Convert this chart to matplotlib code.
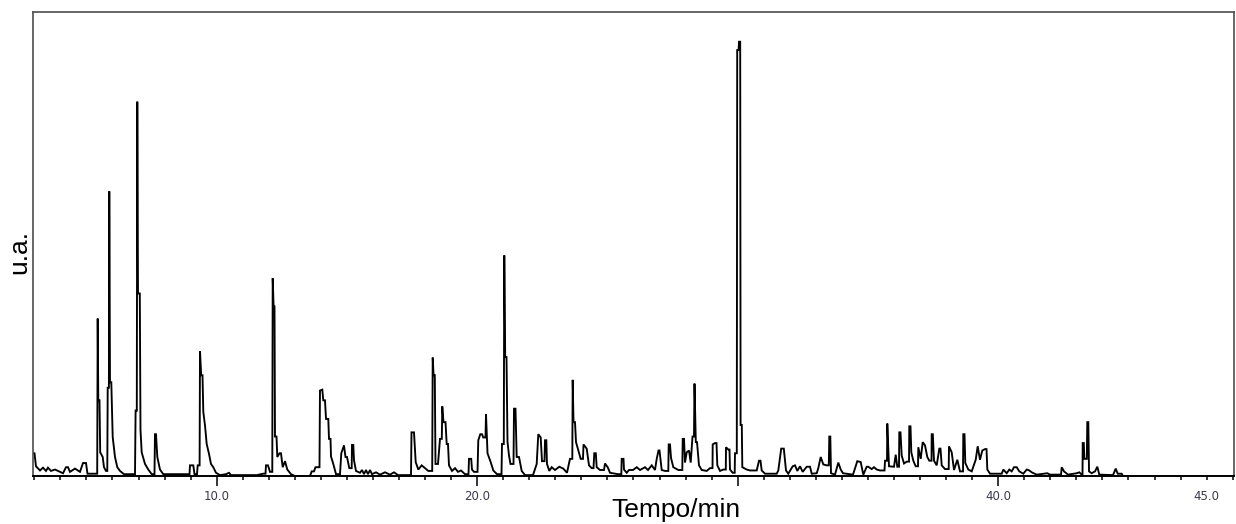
"""Cromatograma: sinal (u.a.) vs tempo de retencao (min)."""

import matplotlib

matplotlib.use("Agg")
import matplotlib.pyplot as plt
from matplotlib.ticker import FixedLocator, MultipleLocator

plt.rcParams["font.family"] = ["Liberation Sans", "DejaVu Sans"]

# ---------------------------------------------------------------------------
# Trace: retention time [min] and signal [u.a.]
# ---------------------------------------------------------------------------
tempo = [
    # 3 - 5.4 min
    2.960, 3.006, 3.063, 3.217, 3.332, 3.447, 3.524, 3.639, 3.793, 3.985,
    4.100, 4.215, 4.292, 4.369, 4.560, 4.752, 4.868, 4.983, 5.040, 5.367,
    # 5.4 - 7.6 min
    5.413, 5.432, 5.455, 5.501, 5.528, 5.624, 5.674, 5.750,
    5.800, 5.816, 5.862, 5.877, 5.904, 5.954, 6.008, 6.096, 6.184, 6.288, 6.441, 6.864,
    6.887, 6.933, 6.952, 6.979, 7.048, 7.075, 7.121, 7.248, 7.374, 7.505, 7.612,
    # 7.6 - 12 min
    7.631, 7.670, 7.720, 7.823, 7.950, 8.956, 8.975, 9.102, 9.148, 9.244, 9.271, 9.344,
    9.359, 9.405, 9.455, 9.486, 9.551, 9.616, 9.704, 9.781, 9.869, 9.973, 10.127, 10.357, 10.472, 10.549,
    11.547, 11.777, 11.873, 11.893, 11.969, 12.046,
    # 12 - 17.5 min
    12.134, 12.150, 12.184, 12.219, 12.238, 12.296, 12.326, 12.411, 12.468, 12.534,
    12.622, 12.710, 12.852, 13.006, 13.582, 13.647, 13.735, 13.793, 13.946,
    13.965, 14.054, 14.092, 14.157, 14.196, 14.284, 14.311, 14.369, 14.388, 14.476, 14.580, 14.733,
    14.783, 14.887, 14.944, 15.002, 15.090, 15.182, 15.194, 15.244, 15.271, 15.347,
    15.501, 15.578, 15.655, 15.731, 15.808, 15.885, 15.962, 16.115, 16.269, 16.461,
    16.653, 16.806, 16.960, 17.459,
    # 17.5 - 21 min
    17.478, 17.574, 17.639, 17.739, 17.869, 17.996, 18.123, 18.273,
    18.292, 18.326, 18.372, 18.399, 18.495, 18.572, 18.641, 18.660, 18.706, 18.783,
    18.829, 18.879, 18.917, 19.033, 19.148, 19.263, 19.378, 19.532,
    19.666, 19.685, 19.770, 19.800, 19.877, 20.012, 20.042, 20.119, 20.184, 20.234,
    20.319, 20.338, 20.396, 20.518, 20.618, 20.760, 20.933,
    # 21 - 23.6 min
    20.952, 21.021, 21.040, 21.075, 21.125, 21.163, 21.221, 21.278, 21.394, 21.413,
    21.470, 21.516, 21.605, 21.708, 21.835, 22.142,
    22.284, 22.345, 22.438, 22.487, 22.583, 22.603, 22.653, 22.679, 22.768, 22.860,
    22.987, 23.152, 23.305, 23.447, 23.562,
    # 23.6 - 28.3 min
    23.651, 23.666, 23.697, 23.754, 23.793, 23.881, 23.973, 24.061, 24.081, 24.203,
    24.292, 24.395, 24.464, 24.495, 24.553, 24.587, 24.714, 24.868, 24.906, 25.010,
    25.098, 25.405,
    25.532, 25.547, 25.616, 25.635, 25.739, 25.827, 25.981, 26.123, 26.250, 26.441,
    26.557, 26.699, 26.825, 26.891, 26.960, 26.998, 27.083, 27.209,
    27.336, 27.351, 27.401, 27.440, 27.528, 27.720, 27.873, 27.889, 27.939, 27.977,
    28.042, 28.131, 28.196, 28.265, 28.322,
    # 28.3 - 30.2 min
    28.342, 28.392, 28.438, 28.514, 28.618, 28.810, 28.937, 29.033, 29.040, 29.129,
    29.186, 29.217, 29.321, 29.447, 29.543, 29.551, 29.639, 29.685, 29.704, 29.808,
    29.885, 29.896, 29.965,
    29.981, 30.035, 30.050, 30.096, 30.111, 30.157, 30.177,
    # 30.3 - 36 min
    30.345, 30.472, 30.729, 30.818, 30.875, 30.921, 31.048, 31.497, 31.559, 31.670,
    31.770, 31.854, 31.942,
    32.111, 32.200, 32.288, 32.392, 32.495, 32.649, 32.776, 32.841, 33.033, 33.094,
    33.186, 33.286, 33.417, 33.497, 33.516, 33.555, 33.582, 33.735, 33.862, 33.954,
    34.042,
    34.426, 34.591, 34.722, 34.822, 34.952, 35.013, 35.144, 35.232, 35.336, 35.463,
    35.635, 35.655, 35.732, 35.743, 35.808,
    # 36 - 40 min
    36.000, 36.065, 36.127, 36.192, 36.203, 36.249, 36.295, 36.384, 36.488, 36.576,
    36.587, 36.633, 36.664, 36.741, 36.833, 36.921, 36.933, 37.025, 37.102, 37.190,
    37.278, 37.355, 37.440, 37.447, 37.490, 37.535,
    37.639, 37.739, 37.785, 37.831, 37.958, 38.100, 38.111, 38.215, 38.303, 38.430,
    38.534, 38.649, 38.660, 38.706, 38.737, 38.852, 38.983, 39.136, 39.213, 39.301,
    39.390, 39.493, 39.551, 39.582, 39.685,
    # 40 min - end
    40.134, 40.196, 40.326, 40.426, 40.518, 40.607, 40.710, 40.810, 40.964, 41.094,
    41.194, 41.286, 41.478, 41.885, 41.989, 42.411, 42.438, 42.526, 42.679, 43.013,
    43.113, 43.205,
    43.236, 43.244, 43.286, 43.305, 43.401, 43.420, 43.459, 43.486, 43.589, 43.716,
    43.804, 43.881, 44.407, 44.511, 44.587, 44.741, 44.791, 49.014,
]

sinal = [
    # 3 - 5.4 min
    5.0, 5.0, 2.2, 1.3, 1.9, 1.2, 1.9, 1.2, 1.5, 1.0,
    0.7, 2.0, 2.0, 1.0, 1.7, 1.0, 2.9, 2.9, 0.6, 0.6,
    # 5.4 - 7.6 min
    0.6, 34.0, 16.4, 16.4, 5.2, 4.2, 2.0, 1.2,
    1.2, 19.1, 19.1, 61.4, 20.3, 20.3, 8.5, 4.2, 2.0, 1.2, 0.5, 0.5,
    14.2, 14.2, 80.7, 39.4, 39.4, 10.0, 5.2, 2.7, 1.5, 0.5, 0.5,
    # 7.6 - 12 min
    9.1, 9.1, 4.2, 1.5, 0.5, 0.5, 2.4, 2.4, 0.5, 0.5, 2.4, 2.4,
    27.0, 21.8, 21.8, 13.9, 11.0, 7.0, 4.9, 2.7, 2.0, 0.8, 0.3, 0.5, 0.8, 0.3,
    0.3, 0.6, 0.6, 2.4, 2.4, 1.0,
    # 12 - 17.5 min
    1.0, 42.7, 36.6, 36.6, 8.6, 8.6, 4.2, 5.0, 5.0, 2.0,
    3.3, 1.5, 0.5, 0.1, 0.1, 1.1, 1.1, 2.0, 2.0,
    18.5, 18.7, 16.4, 16.4, 12.4, 12.4, 8.1, 8.1, 4.3, 2.7, 0.5, 0.5,
    5.0, 6.7, 4.2, 4.2, 1.8, 1.8, 6.8, 6.8, 3.5, 1.2,
    0.8, 1.4, 0.5, 1.4, 0.5, 1.4, 0.5, 0.9, 0.4, 0.9,
    0.4, 0.9, 0.3, 0.3,
    # 17.5 - 21 min
    9.5, 9.5, 3.1, 1.5, 2.4, 1.8, 1.2, 1.2,
    25.6, 21.8, 21.8, 2.7, 2.7, 8.1, 8.1, 15.1, 11.7, 11.7,
    7.0, 7.0, 2.4, 1.2, 1.8, 1.0, 1.3, 0.5,
    0.5, 3.8, 3.8, 1.5, 1.0, 1.0, 7.8, 9.1, 9.1, 8.4,
    8.4, 13.4, 5.0, 3.1, 1.3, 0.5, 0.5,
    # 21 - 23.6 min
    7.0, 7.0, 47.6, 25.7, 25.7, 7.5, 4.5, 2.7, 2.7, 14.6,
    14.6, 4.2, 4.2, 1.2, 0.3, 0.3,
    2.7, 9.1, 8.4, 3.3, 3.3, 7.8, 7.8, 2.7, 1.2, 2.0,
    1.4, 2.1, 1.7, 0.8, 3.8,
    # 23.6 - 28.3 min
    3.8, 20.8, 11.7, 11.7, 7.4, 5.6, 3.8, 3.8, 6.9, 6.0,
    2.4, 1.8, 1.8, 5.0, 5.0, 2.0, 1.4, 1.4, 2.8, 2.0,
    0.8, 0.5,
    0.5, 3.8, 3.8, 1.5, 0.8, 1.4, 1.4, 2.0, 1.4, 2.0,
    1.4, 2.4, 1.4, 3.8, 5.6, 5.6, 1.4, 1.2,
    1.2, 6.9, 6.9, 4.0, 2.0, 1.4, 1.4, 8.1, 8.1, 3.0,
    5.2, 5.6, 3.0, 8.6, 8.6,
    # 28.3 - 30.2 min
    20.0, 7.4, 7.4, 2.4, 1.4, 1.2, 1.8, 1.8, 6.9, 7.2,
    7.2, 2.4, 1.2, 1.5, 1.5, 6.3, 5.8, 5.8, 1.5, 0.8,
    0.8, 5.0, 5.0,
    91.8, 91.8, 93.6, 93.6, 11.1, 11.1, 2.0,
    # 30.3 - 36 min
    1.5, 1.3, 1.3, 3.4, 3.4, 1.3, 0.6, 0.6, 1.3, 6.0,
    6.0, 1.3, 0.6,
    2.2, 2.4, 1.2, 2.2, 1.0, 2.1, 2.1, 0.6, 0.7, 1.8,
    4.2, 2.6, 2.4, 2.4, 8.6, 8.6, 0.7, 0.4, 3.0, 1.5,
    0.7,
    0.4, 3.3, 3.1, 0.4, 2.1, 2.1, 1.6, 2.0, 1.5, 1.3,
    1.3, 3.4, 3.4, 11.4, 2.2,
    # 36 - 40 min
    2.1, 4.7, 2.1, 2.1, 9.5, 9.5, 4.5, 2.8, 3.2, 3.2,
    10.8, 10.8, 5.2, 3.4, 2.2, 2.2, 6.3, 3.8, 7.4, 6.7,
    4.2, 3.4, 3.4, 9.1, 9.1, 3.4,
    2.4, 6.0, 6.0, 2.4, 1.6, 1.6, 6.5, 5.2, 1.4, 3.6,
    1.1, 1.1, 9.1, 9.1, 2.9, 1.5, 1.1, 3.6, 6.5, 3.6,
    5.6, 5.9, 5.9, 1.5, 0.6,
    # 40 min - end
    0.6, 1.5, 0.7, 1.5, 1.1, 2.0, 2.0, 1.1, 0.6, 1.5,
    1.3, 0.9, 0.4, 0.7, 0.4, 0.4, 2.0, 1.1, 0.4, 0.7,
    0.9, 0.4,
    0.4, 7.2, 7.2, 3.8, 3.8, 11.7, 11.7, 1.1, 0.7, 1.1,
    2.1, 0.4, 0.3, 1.7, 0.6, 0.6, 0.0, 0.0,
]

assert len(tempo) == len(sinal)

# Axis labels
major_ticks = [10, 20, 30, 40]
major_labels = ["10.0", "20.0", "", "40.0"]
extra_label_pos = 48.0
extra_label = "45.0"

TICK_COL = "#3a3a4a"

# ---------------------------------------------------------------------------
fig = plt.figure(figsize=(12.36, 5.24), dpi=100)
ax = fig.add_axes([0.02694, 0.09065, 0.9712, 0.88645])

ax.plot(tempo, sinal, color="black", linewidth=1.35, solid_joinstyle="miter")

ax.set_xlim(2.96, 49.04)
ax.set_ylim(0, 100)
ax.set_yticks([])

ax.xaxis.set_major_locator(FixedLocator(major_ticks))
ax.set_xticklabels(major_labels)
ax.xaxis.set_minor_locator(MultipleLocator(1))
ax.tick_params(axis="x", which="major", direction="out", length=7, width=1.1,
               pad=2.5, labelsize=8.5, labelcolor=TICK_COL, color="black")
ax.tick_params(axis="x", which="minor", direction="out", length=2.8, width=1.1,
               color="black")
for lab in ax.get_xticklabels():
    lab.set_fontfamily("DejaVu Sans")

ax.annotate(extra_label, xy=(extra_label_pos, 0), xycoords=("data", "axes fraction"),
            xytext=(0, -9.4), textcoords="offset points", ha="center", va="top",
            fontsize=8.5, color=TICK_COL, family="DejaVu Sans")

for side in ("left", "top", "right"):
    ax.spines[side].set_color("#4d4d4d")
    ax.spines[side].set_linewidth(1.2)
ax.spines["bottom"].set_color("black")
ax.spines["bottom"].set_linewidth(1.4)

fig.text(19 / 1236, 1 - 252 / 524, "u.a.", rotation=90, ha="center", va="center",
         fontsize=19, color="black")
fig.text(676 / 1236, 1 - 517 / 524, "Tempo/min", ha="center", va="baseline",
         fontsize=19, color="black")

fig.savefig("out.png", dpi=100)
